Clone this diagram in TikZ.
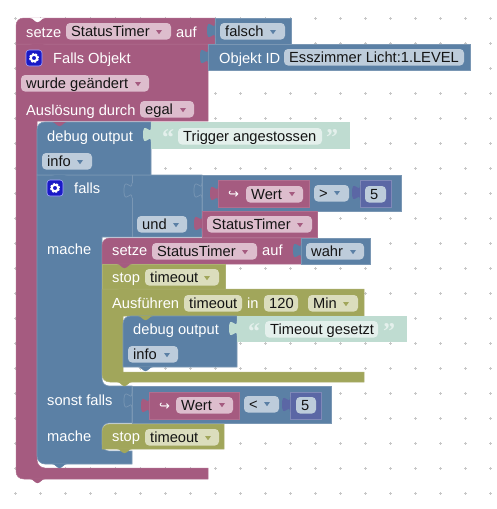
\documentclass[tikz,border=0pt]{standalone}
\usepackage{fontspec}
\setmainfont{Liberation Sans}
\newfontfamily\djfont{DejaVu Sans}
\newfontfamily\qfont{Liberation Serif}
\definecolor{mag}{HTML}{A55B80}\definecolor{magL}{HTML}{B06E8F}\definecolor{magF}{HTML}{DDBDCD}
\definecolor{blu}{HTML}{5B80A5}\definecolor{bluL}{HTML}{7A97B4}\definecolor{bluF}{HTML}{BDCCDB}
\definecolor{oli}{HTML}{A1A65B}\definecolor{oliL}{HTML}{ADB172}\definecolor{oliF}{HTML}{DBDDBD}
\definecolor{pur}{HTML}{5B67A5}\definecolor{purL}{HTML}{7F89B8}
\definecolor{grn}{HTML}{BFDCD1}\definecolor{grnF}{HTML}{E4F0EC}
\definecolor{ink}{HTML}{141414}
\tikzset{
  lab/.style={anchor=base west,inner sep=0pt,font=\fontsize{14.67pt}{16pt}\selectfont},
  wlab/.style={lab,text=white},
  dlab/.style={lab,text=ink},
  mblock/.style={fill=mag,draw=magL,line width=.5pt},
  bblock/.style={fill=blu,draw=bluL,line width=.6pt},
  oblock/.style={fill=oli,draw=oliL,line width=.5pt},
  pblock/.style={fill=pur,draw=purL,line width=.6pt},
  gblock/.style={fill=grn,draw=grn,line width=.5pt},
  qmark/.style={anchor=base west,inner sep=0pt,text=grnF,font=\fontsize{24pt}{24pt}\qfont\bfseries},
}
\newcommand\lbl[4]{\node[wlab] (#1) at (#2,#3) {#4};}
\newcommand\fld[6]{\fill[#5,rounded corners=4pt] (#2,#4) rectangle (#3,#4+16.5);
  \node[dlab] (#1) at (#2+5,#4+13.5) {#6};}
\newcommand\arr[3]{\fill[#3] (#1-3,#2-2) -- (#1+3,#2-2) -- (#1,#2+2.2) -- cycle;}
\newcommand\vtab[3]{\path[#3] (#1,#2) .. controls (#1,#2+10) and (#1-8,#2-8) .. (#1-8,#2+7.5) .. controls (#1-8,#2+23) and (#1,#2+5) .. (#1,#2+15);}
\newcommand\bump[3]{\fill[#3] (#1,#2) .. controls (#1+2,#2) and (#1+3,#2+1) .. (#1+5,#2+3.2) .. controls (#1+6,#2+4.5) and (#1+9,#2+4.5) .. (#1+10,#2+3.2) .. controls (#1+12,#2+1) and (#1+13,#2) .. (#1+15,#2) -- cycle;}
\newcommand\gear[2]{\fill[blue!75!black!90,draw=white!65!blue,line width=.6pt,rounded corners=3pt] (#1-8,#2-8) rectangle (#1+8,#2+8);
  \draw[white,line width=2pt] (#1,#2) circle (3.2pt);
  \draw[white,line width=1.6pt,dash pattern=on 2pt off 1.35pt] (#1,#2) circle (4.3pt);}
\begin{document}
\begin{tikzpicture}[x=1pt,y=-1pt]
\useasboundingbox (0,0) rectangle (496,509);
\fill[white] (0,0) rectangle (496,509);
% grid dots
\foreach \i in {0,...,19}\foreach \j in {0,...,19}{
  \fill[black!22] (15+25*\i-1.5,18+25*\j-.4) rectangle (15+25*\i+1.5,18+25*\j+.4);
  \fill[black!22] (15+25*\i-.4,18+25*\j-1.5) rectangle (15+25*\i+.4,18+25*\j+1.5);}
% outer magenta trigger block
\path[mblock] (16,44) -- (208,44) -- (208,121) -- (37,121) [rounded corners=8pt] -- (37,468) [sharp corners] -- (208,468) -- (208,479) -- (24,479)
  .. controls (19,479) and (16,476) .. (16,471) -- cycle;
\bump{30}{479}{mag}
% top setze
\path[mblock] (24,18) -- (215,18) -- (215,44) -- (16,44) -- (16,26) .. controls (16,21) and (19,18) .. (24,18) -- cycle;
\bump{30}{18}{white}
\bump{30}{44}{mag}
\path[bblock] (215,18) rectangle (291,44);
\vtab{215}{23}{fill=blu}
\lbl{t1}{26}{37}{setze}
\fld{f1}{66}{171}{23}{magF}{StatusTimer}\arr{159}{32}{mag}
\lbl{t2}{176}{37}{auf}
\fld{f2}{220}{285}{23}{bluF}{falsch}\arr{273}{32}{blu}
% Objekt ID
\path[bblock] (208,44) rectangle (470,70);
\vtab{208}{49}{fill=blu}
\lbl{t3}{219}{63}{Objekt ID}
\fld{f3}{284}{464}{49}{bluF}{Esszimmer Licht:1.LEVEL}
\gear{34}{58}
\lbl{t4}{53}{63}{Falls Objekt}
\fld{f4}{21}{149}{75}{magF}{wurde geändert}\arr{138}{84}{mag}
\lbl{t5}{26}{115}{Auslösung durch}
\fld{f5}{140}{194}{101}{magF}{egal}\arr{183}{110}{mag}
% blue falls block
\path[bblock] (37,175) -- (202,175) -- (202,237) -- (102,237) [rounded corners=7pt] -- (102,386) [sharp corners] -- (132,386) -- (132,423) [rounded corners=7pt] -- (102,423) -- (102,451) [sharp corners] -- (132,451) -- (132,464) [rounded corners=8pt] -- (37,464) [sharp corners] -- cycle;
\bump{52}{464}{blu}
% debug output
\path[bblock] (45,122) -- (151,122) -- (151,175) -- (37,175) -- (37,130) .. controls (37,125) and (40,122) .. (45,122) -- cycle;
\bump{52}{122}{mag}
\bump{52}{175}{blu}
\path[gblock] (151,122) rectangle (349,148);
\vtab{151}{127}{fill=grn}
\lbl{t6}{47}{141}{debug output}
\node[qmark] (q1) at (162,145) {“};
\fld{f6}{178}{322}{128}{grnF}{Trigger angestossen}
\node[qmark] (q2) at (326,145) {”};
\fld{f7}{42}{92}{153}{bluF}{info}\arr{80}{162}{blu}
% falls
\gear{55}{188}
\lbl{t7}{74}{193}{falls}
\path[draw=bluL,line width=.7pt] (132,175) -- (132,183);
\vtab{132}{183}{draw=bluL,line width=.7pt}
\path[draw=bluL,line width=.7pt] (132,198) -- (132,237);
\fld{f8}{137}{187}{216}{bluF}{und}\arr{176}{225}{blu}
% comparison
\path[bblock] (202,175) rectangle (401,211);
\vtab{202}{183}{draw=bluL,line width=.7pt}
\path[mblock] (218,180) rectangle (309,207);
\vtab{218}{186}{fill=mag}
\node[wlab,font=\fontsize{13pt}{14pt}\djfont] (h1) at (228,198) {↪};
\fld{f9}{246}{303}{186}{magF}{Wert}\arr{292}{194}{mag}
\fld{f10}{314}{349}{185}{bluF}{>}\arr{337}{193}{blu}
\path[pblock] (360,180) rectangle (391,207);
\vtab{360}{185}{fill=pur}
\fld{f11}{365}{386}{186}{bluF}{5}
\path[mblock] (202,211) rectangle (317,237);
\vtab{202}{216}{fill=mag}
\fld{f12}{207}{312}{216}{magF}{StatusTimer}\arr{300}{225}{mag}
\lbl{t8}{47}{254}{mache}
% nested setze
\path[mblock] (110,238) -- (301,238) -- (301,264) -- (102,264) -- (102,246) .. controls (102,241) and (105,238) .. (110,238) -- cycle;
\lbl{t9}{112}{255}{setze}
\fld{f13}{152}{257}{243}{magF}{StatusTimer}\arr{245}{252}{mag}
\lbl{t10}{262}{255}{auf}
\path[bblock] (301,238) rectangle (370,264);
\vtab{301}{243}{fill=blu}
\fld{f14}{306}{364}{243}{bluF}{wahr}\arr{353}{252}{blu}
% stop
\path[oblock] (102,264) rectangle (225,289);
\bump{117}{264}{mag}
\lbl{t11}{112}{282}{stop}
\fld{f15}{145}{219}{269}{oliF}{timeout}\arr{207}{278}{oli}
% Ausfuehren
\path[oblock] (102,289) -- (364,289) -- (364,316) -- (123,316) -- (123,372) -- (364,372) -- (364,382) -- (110,382) .. controls (105,382) and (102,379) .. (102,374) -- cycle;
\bump{117}{289}{oli}
\bump{117}{382}{oli}
\lbl{t12}{112}{308}{Ausführen}
\fld{f16}{184}{242}{295}{oliF}{timeout}
\lbl{t13}{247}{308}{in}
\fld{f17}{264}{298}{295}{oliF}{120}
\fld{f18}{308}{358}{295}{oliF}{Min}\arr{346}{304}{oli}
% nested debug
\path[bblock] (131,316) -- (237,316) -- (237,367) -- (123,367) -- (123,324) .. controls (123,319) and (126,316) .. (131,316) -- cycle;
\bump{138}{316}{oli}
\bump{138}{367}{blu}
\path[gblock] (237,316) rectangle (406,341);
\vtab{237}{321}{fill=grn}
\lbl{t14}{133}{334}{debug output}
\node[qmark] (q3) at (248,339) {“};
\fld{f19}{265}{378}{321}{grnF}{Timeout gesetzt}
\node[qmark] (q4) at (383,339) {”};
\fld{f20}{128}{178}{346}{bluF}{info}\arr{167}{355}{blu}
% sonst falls
\lbl{t15}{47}{405}{sonst falls}
\path[bblock] (132,386) rectangle (331,423);
\vtab{132}{393}{fill=blu,draw=bluL,line width=.7pt}
\path[mblock] (149,392) rectangle (239,419);
\vtab{149}{398}{fill=mag}
\node[wlab,font=\fontsize{13pt}{14pt}\djfont] (h2) at (159,410) {↪};
\fld{f21}{176}{233}{397}{magF}{Wert}\arr{222}{405}{mag}
\fld{f22}{244}{279}{396}{bluF}{<}\arr{267}{404}{blu}
\path[pblock] (290,392) rectangle (321,419);
\vtab{290}{397}{fill=pur}
\fld{f23}{296}{316}{397}{bluF}{5}
% lower stop
\lbl{t16}{47}{441}{mache}
\path[oblock] (110,424) -- (224,424) -- (224,449) -- (102,449) -- (102,432) .. controls (102,427) and (105,424) .. (110,424) -- cycle;
\bump{117}{449}{oli}
\lbl{t17}{112}{441}{stop}
\fld{f24}{145}{219}{429}{oliF}{timeout}\arr{208}{438}{oli}
\end{tikzpicture}
\end{document}
